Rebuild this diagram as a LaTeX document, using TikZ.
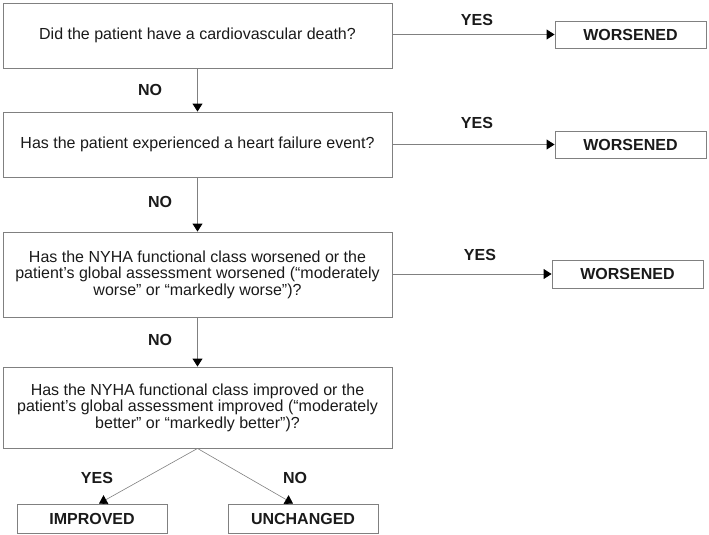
\documentclass[tikz,border=0pt]{standalone}
\usepackage{fontspec}
\setmainfont{Liberation Sans}
\usetikzlibrary{arrows.meta}
\definecolor{linegray}{HTML}{808080}
\definecolor{txt}{HTML}{1A1A1A}
\begin{document}
\begin{tikzpicture}[x=1pt,y=-1pt,
  qbox/.style={draw=linegray,line width=0.9pt,minimum width=389pt,inner sep=0pt,align=center,text=txt,font=\fontsize{16}{16.5}\selectfont},
  obox/.style={draw=linegray,line width=0.9pt,minimum width=151pt,inner sep=0pt,text=txt,font=\fontsize{16}{16.5}\selectfont\bfseries},
  lbl/.style={text=txt,font=\fontsize{16}{16.5}\selectfont\bfseries,inner sep=0pt},
  conn/.style={draw=linegray,line width=0.9pt,-{Triangle[width=10pt,length=8pt,fill=black,color=black]}},
  dconn/.style={draw=linegray,line width=0.6pt,-{Triangle[width=10pt,length=8pt,fill=black,color=black]}}]
\useasboundingbox (0,0) rectangle (709,535);
\node[qbox,minimum height=65pt] (b1) at (197.5,35.5) {Did the patient have a cardiovascular death?};
\node[qbox,minimum height=65pt] (b2) at (197.5,144.5) {Has the patient experienced a heart failure event?};
\node[qbox,minimum height=85pt] (b3) at (197.5,274.5) {Has the NYHA functional class worsened or the\\patient’s global assessment worsened (“moderately\\worse” or “markedly worse”)?};
\node[qbox,minimum height=81pt] (b4) at (197.5,407.5) {Has the NYHA functional class improved or the\\patient’s global assessment improved (“moderately\\better” or “markedly better”)?};
\node[obox,minimum height=27pt] (w1) at (630.5,34.5) {WORSENED};
\node[obox,minimum height=27pt] (w2) at (630.5,144.5) {WORSENED};
\node[obox,minimum height=28pt] (w3) at (627.5,274) {WORSENED};
\node[obox,minimum width=150pt,minimum height=29pt] (imp) at (92,518.5) {IMPROVED};
\node[obox,minimum width=150pt,minimum height=29pt] (unc) at (303,518.5) {UNCHANGED};
\node[lbl] (y1) at (477,20) {YES};
\node[lbl] (y2) at (477,123) {YES};
\node[lbl] (y3) at (480,255) {YES};
\node[lbl] (n1) at (150,90) {NO};
\node[lbl] (n2) at (160,202) {NO};
\node[lbl] (n3) at (160,340) {NO};
\node[lbl] (y4) at (97,478) {YES};
\node[lbl] (n4) at (295,478) {NO};
\draw[conn] (b1.east |- w1.west) -- (w1.west);
\draw[conn] (b2.east |- w2.west) -- (w2.west);
\draw[conn] (b3.east |- w3.west) -- (w3.west);
\draw[conn] (b1.south) -- (b2.north);
\draw[conn] (b2.south) -- (b3.north);
\draw[conn] (b3.south) -- (b4.north);
\draw[dconn] (b4.south) -- ([xshift=7pt]imp.north);
\draw[dconn] (b4.south) -- ([xshift=-10pt]unc.north);
\end{tikzpicture}
\end{document}
